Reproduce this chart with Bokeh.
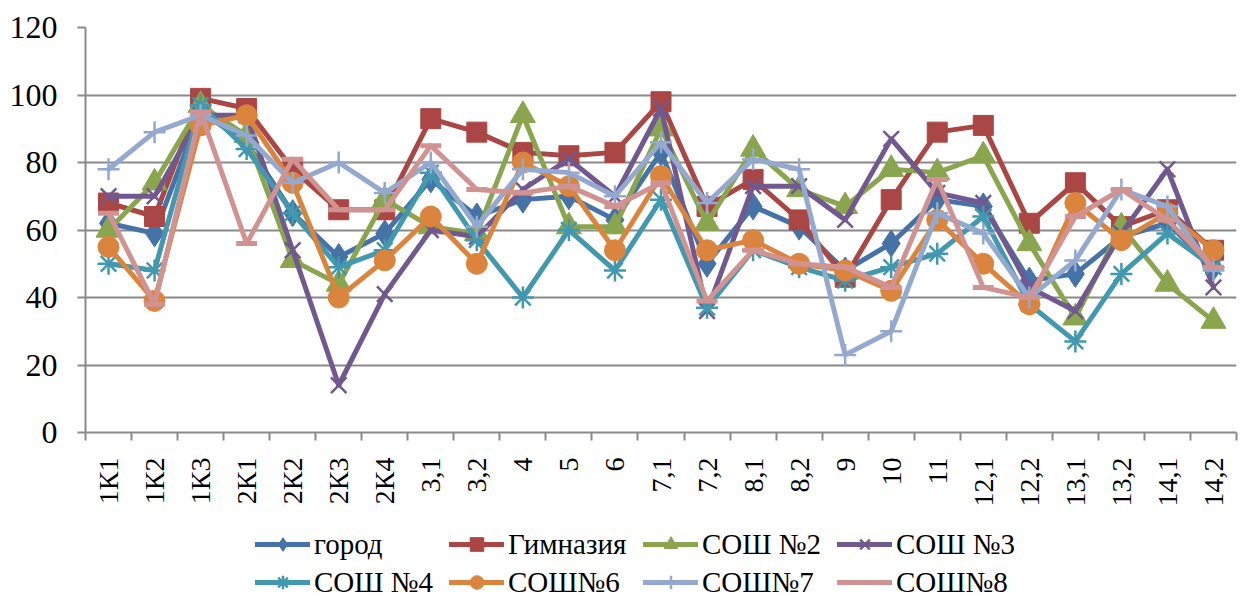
import numpy as np
from bokeh.plotting import figure
from bokeh.layouts import column
from bokeh.models import Range1d, FixedTicker, Legend, LegendItem
from bokeh.embed import file_html
from bokeh.resources import INLINE

categories = ["1К1", "1К2", "1К3", "2К1", "2К2", "2К3", "2К4", "3,1", "3,2", "4", "5", "6",
              "7,1", "7,2", "8,1", "8,2", "9", "10", "11", "12,1", "12,2", "13,1", "13,2", "14,1", "14,2"]

gorod     = [62, 59, 95, 86, 65, 52, 59, 75, 64, 69, 70, 63, 83, 50, 67, 61, 48, 56, 69, 67, 45, 47, 58, 62, 49]
gimnazia  = [68, 64, 99, 96, 78, 66, 66, 93, 89, 83, 82, 83, 98, 67, 75, 63, 46, 69, 89, 91, 62, 74, 61, 66, 54]
sosh2     = [60, 74, 97, 88, 51, 44, 69, 61, 59, 94, 61, 61, 90, 62, 84, 72, 67, 78, 77, 82, 56, 34, 61, 44, 33]
sosh3     = [70, 70, 94, 94, 54, 14, 41, 60, 58, 72, 81, 70, 96, 36, 73, 73, 63, 87, 71, 68, 43, 36, 59, 78, 43]
sosh4     = [50, 48, 97, 84, 65, 49, 54, 77, 57, 40, 60, 48, 69, 37, 54, 49, 45, 49, 53, 64, 38, 27, 47, 59, 49]
sosh6     = [55, 39, 91, 94, 74, 40, 51, 64, 50, 80, 73, 54, 76, 54, 57, 50, 48, 42, 63, 50, 38, 68, 57, 65, 54]
sosh7     = [78, 89, 94, 88, 74, 80, 71, 80, 61, 78, 77, 70, 86, 68, 81, 78, 23, 30, 65, 59, 40, 51, 72, 67, 48]
sosh8     = [65, 38, 95, 56, 81, 66, 66, 85, 72, 71, 73, 67, 74, 39, 54, 50, 49, 43, 75, 43, 40, 64, 72, 63, 49]

series_names = ["город", "Гимназия", "СОШ №2", "СОШ №3", "СОШ №4", "СОШ№6", "СОШ№7", "СОШ№8"]
series_values = [gorod, gimnazia, sosh2, sosh3, sosh4, sosh6, sosh7, sosh8]
colors = ["#4572A7", "#AA4643", "#89A54E", "#71588F", "#4198AF", "#DB843D", "#93A9CF", "#D19392"]
markers = ["diamond", "square", "triangle", "x", "asterisk", "circle", "cross", "dash"]
msizes = [27, 20, 25, 22, 22, 21, 22, 21]
mlw = [1, 1, 1, 2.5, 2.5, 1, 2.5, 5]
y_ticks = [0, 20, 40, 60, 80, 100, 120]

n = len(categories)
x = np.arange(n) + 0.5

FONT = "Liberation Serif"
GRAY = "#898989"
W = 1238


def add_series(fig):
    items = []
    for name, vals, c, m, s, lw in zip(series_names, series_values, colors, markers, msizes, mlw):
        r1 = fig.line(x, vals, line_color=c, line_width=5, line_join="round", line_cap="round")
        if m in ("x", "asterisk", "cross", "dash"):
            r2 = fig.scatter(x, vals, marker=m, size=s, line_color=c, line_width=lw, fill_color=c)
        else:
            r2 = fig.scatter(x, vals, marker=m, size=s, line_color=c, fill_color=c, line_width=1)
        items.append(LegendItem(label=name, renderers=[r1, r2]))
    return items


p = figure(width=W, height=515, output_backend="svg", toolbar_location=None,
           x_range=Range1d(0, n), y_range=Range1d(0, 120),
           min_border_left=85, min_border_right=2, min_border_top=27, min_border_bottom=83)
p.outline_line_color = None
add_series(p)

xa = p.xaxis[0]
xa.ticker = FixedTicker(ticks=list(x), minor_ticks=list(np.arange(n + 1)))
xa.major_label_overrides = {float(v): lab for v, lab in zip(x, categories)}
xa.major_label_orientation = np.pi / 2
xa.major_label_text_font = FONT
xa.major_label_text_font_size = "28px"
xa.major_label_text_color = "black"
xa.major_label_standoff = 17
xa.major_tick_out = 0
xa.major_tick_in = 0
xa.minor_tick_out = 8
xa.minor_tick_in = 0
xa.minor_tick_line_color = GRAY
xa.minor_tick_line_width = 2
xa.axis_line_color = GRAY
xa.axis_line_width = 2

ya = p.yaxis[0]
ya.ticker = FixedTicker(ticks=y_ticks, minor_ticks=[])
ya.major_label_text_font = FONT
ya.major_label_text_font_size = "32px"
ya.major_label_text_color = "black"
ya.major_label_standoff = 20
ya.major_tick_out = 8
ya.major_tick_in = 0
ya.major_tick_line_color = GRAY
ya.major_tick_line_width = 2
ya.axis_line_color = GRAY
ya.axis_line_width = 2

p.xgrid.visible = False
p.ygrid.ticker = FixedTicker(ticks=y_ticks)
p.ygrid.grid_line_color = GRAY
p.ygrid.grid_line_width = 2

# legend panel (its renderers lie outside the visible range; only the legend shows)
lg = figure(width=W, height=84, output_backend="svg", toolbar_location=None,
            x_range=Range1d(-200, -100), y_range=Range1d(-200, -100),
            x_axis_type=None, y_axis_type=None, min_border=0)
lg.outline_line_color = None
lg_items = add_series(lg)

legend = Legend(items=lg_items, orientation="horizontal", ncols=4,
                location=(170, 0),
                glyph_width=55, glyph_height=34, label_height=32, label_width=131,
                label_standoff=4, spacing=4, padding=0, margin=0,
                label_text_font=FONT, label_text_font_size="29px",
                label_text_color="black",
                border_line_color=None, background_fill_alpha=0)
lg.add_layout(legend, "center")

layout = column(p, lg, spacing=0)
open("out.html", "w").write(file_html(layout, INLINE))
